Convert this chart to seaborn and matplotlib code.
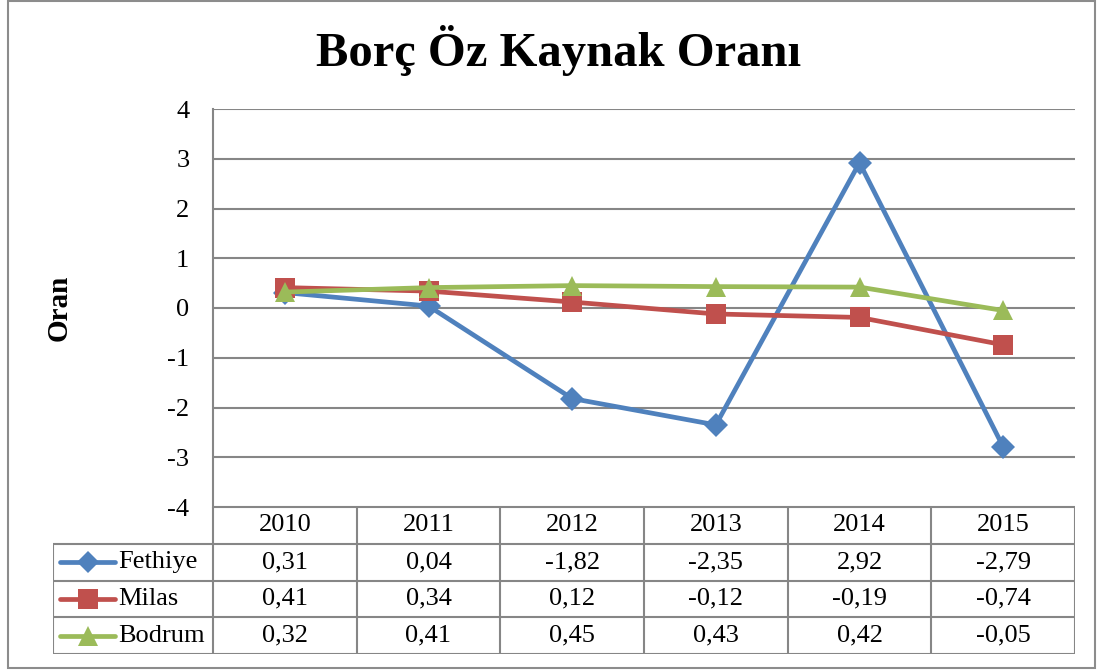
import matplotlib
matplotlib.use("Agg")
import matplotlib.pyplot as plt
import seaborn as sns
import pandas as pd
from matplotlib.patches import Rectangle

years = ["2010", "2011", "2012", "2013", "2014", "2015"]
fethiye = [0.31, 0.04, -1.82, -2.35, 2.92, -2.79]
milas = [0.41, 0.34, 0.12, -0.12, -0.19, -0.74]
bodrum = [0.32, 0.41, 0.45, 0.43, 0.42, -0.05]

series = ["Fethiye", "Milas", "Bodrum"]
colors = ["#4F81BD", "#C0504D", "#9BBB59"]
markers = ["D", "s", "^"]
msizes = [12, 14.5, 14.5]
grid_col = "#868686"
fs = 19

df = pd.DataFrame({
    "x": list(range(len(years))) * 3,
    "val": fethiye + milas + bodrum,
    "seri": [s for s in series for _ in years],
})

sns.set_theme(style="white")
plt.rcParams["font.family"] = ["Liberation Serif", "DejaVu Serif"]
plt.rcParams["text.color"] = "black"
plt.rcParams["ytick.color"] = "black"
plt.rcParams["axes.labelcolor"] = "black"

W, H = 1101, 672
fig = plt.figure(figsize=(W / 100, H / 100), dpi=100)

def fx(px):
    return px / W

def fy(py):
    return 1 - py / H

# outer frame
fig.patches.append(Rectangle((fx(8), fy(668)), fx(1095) - fx(8), fy(1) - fy(668),
                             transform=fig.transFigure, fill=False, ec="#8c8c8c", lw=1.5))

# plot area
L, R, T, B = 213, 1075, 109, 507
ax = fig.add_axes([fx(L), fy(B), fx(R) - fx(L), fy(T) - fy(B)])
for s, c, m, ms in zip(series, colors, markers, msizes):
    sns.lineplot(data=df[df.seri == s], x="x", y="val", ax=ax, color=c, lw=3.4,
                 marker=m, markersize=ms, markeredgewidth=0, legend=False)
ax.set_xlim(-0.5, 5.5)
ax.set_ylim(-4, 4)
ax.set_yticks(range(-4, 5))
ax.set_yticklabels([str(v) for v in range(-4, 5)], fontsize=fs)
ax.tick_params(axis="y", length=0, pad=17)
ax.set_xticks([])
ax.set_xlabel("")
ax.set_ylabel("Oran", fontsize=21, fontweight="bold")
ax.yaxis.set_label_coords((59 - L) / (R - L), 0.5)
ax.yaxis.label.set_va("center")
ax.yaxis.grid(True, color=grid_col, lw=1.5)
ax.set_axisbelow(True)
for sp in ["top", "right", "bottom"]:
    ax.spines[sp].set_visible(False)
ax.spines["left"].set_color(grid_col)
ax.spines["left"].set_linewidth(1.5)
ax.patch.set_alpha(0)

fig.text(0.507, fy(66), "Borç Öz Kaynak Oranı", ha="center", va="baseline",
         fontsize=35, fontweight="bold")

# data table
TL, TB = 53, 654
tax = fig.add_axes([fx(TL), fy(TB), fx(R) - fx(TL), fy(B) - fy(TB)])
colw = (R - L) / 6
x0 = -0.5 - (L - TL) / colw
tax.set_xlim(x0, 5.5)
tax.set_ylim(4, 0)
tax.axis("off")
kw = dict(color=grid_col, lw=1.5, solid_capstyle="butt")
tax.plot([-0.5, 5.5], [0, 0], **kw)
for r in range(1, 5):
    tax.plot([x0, 5.5], [r, r], **kw)
tax.plot([x0, x0], [1, 4], **kw)
for i in range(7):
    tax.plot([i - 0.5, i - 0.5], [0, 4], **kw)

for i, y in enumerate(years):
    tax.text(i, 0.5, y, ha="center", va="center", fontsize=fs)
rows = [fethiye, milas, bodrum]
for r, (s, vals, c, m, ms) in enumerate(zip(series, rows, colors, markers, msizes), start=1):
    lx0 = x0 + 7 / colw
    lx1 = x0 + 62 / colw
    tax.plot([lx0, lx1], [r + 0.5, r + 0.5], color=c, lw=3.4, solid_capstyle="round")
    tax.plot([(lx0 + lx1) / 2], [r + 0.5], marker=m, color=c, markersize=ms * 0.95,
             markeredgewidth=0)
    tax.text(lx1 + 3 / colw, r + 0.5, s, ha="left", va="center", fontsize=fs)
    for i, v in enumerate(vals):
        tax.text(i, r + 0.5, f"{v:.2f}".replace(".", ","), ha="center", va="center",
                 fontsize=fs)

fig.savefig("out.png", dpi=100)
